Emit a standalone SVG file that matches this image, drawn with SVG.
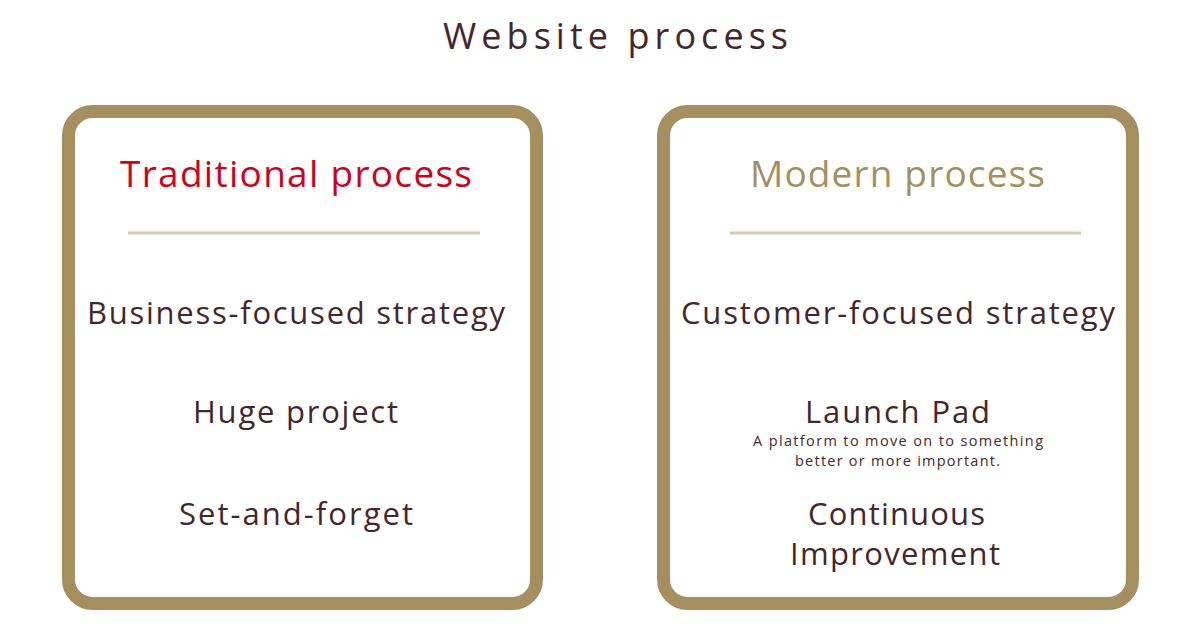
<svg xmlns="http://www.w3.org/2000/svg" width="1200" height="628" viewBox="0 0 1200 628">
<style>
.box{fill:#ffffff;stroke:#a58f5f;stroke-width:13}
.div{stroke:#d3c9b0;stroke-width:3}
text{font-family:"Open Sans","Liberation Sans",sans-serif;text-anchor:middle;fill:#45272b}
.t{font-size:36px}
.h{font-size:37px}
.i{font-size:31px}
.s{font-size:14.5px}
</style>
<rect width="1200" height="628" fill="#ffffff"/>
<text class="t" x="615.5" y="49" textLength="345" lengthAdjust="spacing">Website process</text>
<g id="traditional">
<rect class="box" x="68.5" y="111.5" width="468" height="492" rx="24"/>
<text class="h" x="296" y="187" textLength="352" lengthAdjust="spacing" style="fill:#d0021b">Traditional process</text>
<line class="div" x1="128" y1="233" x2="480" y2="233"/>
<text class="i" x="296" y="324" textLength="418" lengthAdjust="spacing">Business-focused strategy</text>
<text class="i" x="295.5" y="423" textLength="205" lengthAdjust="spacing">Huge project</text>
<text class="i" x="296" y="525" textLength="234" lengthAdjust="spacing">Set-and-forget</text>
</g>
<g id="modern">
<rect class="box" x="663.5" y="111.5" width="469" height="492" rx="24"/>
<text class="h" x="897.5" y="187" textLength="295" lengthAdjust="spacing" style="fill:#a58f5f">Modern process</text>
<line class="div" x1="730" y1="233" x2="1081" y2="233"/>
<text class="i" x="898" y="324" textLength="434" lengthAdjust="spacing">Customer-focused strategy</text>
<text class="i" x="897.5" y="423" textLength="185" lengthAdjust="spacing">Launch Pad</text>
<text class="s" x="898" y="446" textLength="290" lengthAdjust="spacing">A platform to move on to something</text>
<text class="s" x="897.5" y="466" textLength="205" lengthAdjust="spacing">better or more important.</text>
<text class="i" x="896.5" y="525" textLength="177" lengthAdjust="spacing">Continuous</text>
<text class="i" x="895" y="565" textLength="210" lengthAdjust="spacing">Improvement</text>
</g>
<g id="connectors"></g>
</svg>
